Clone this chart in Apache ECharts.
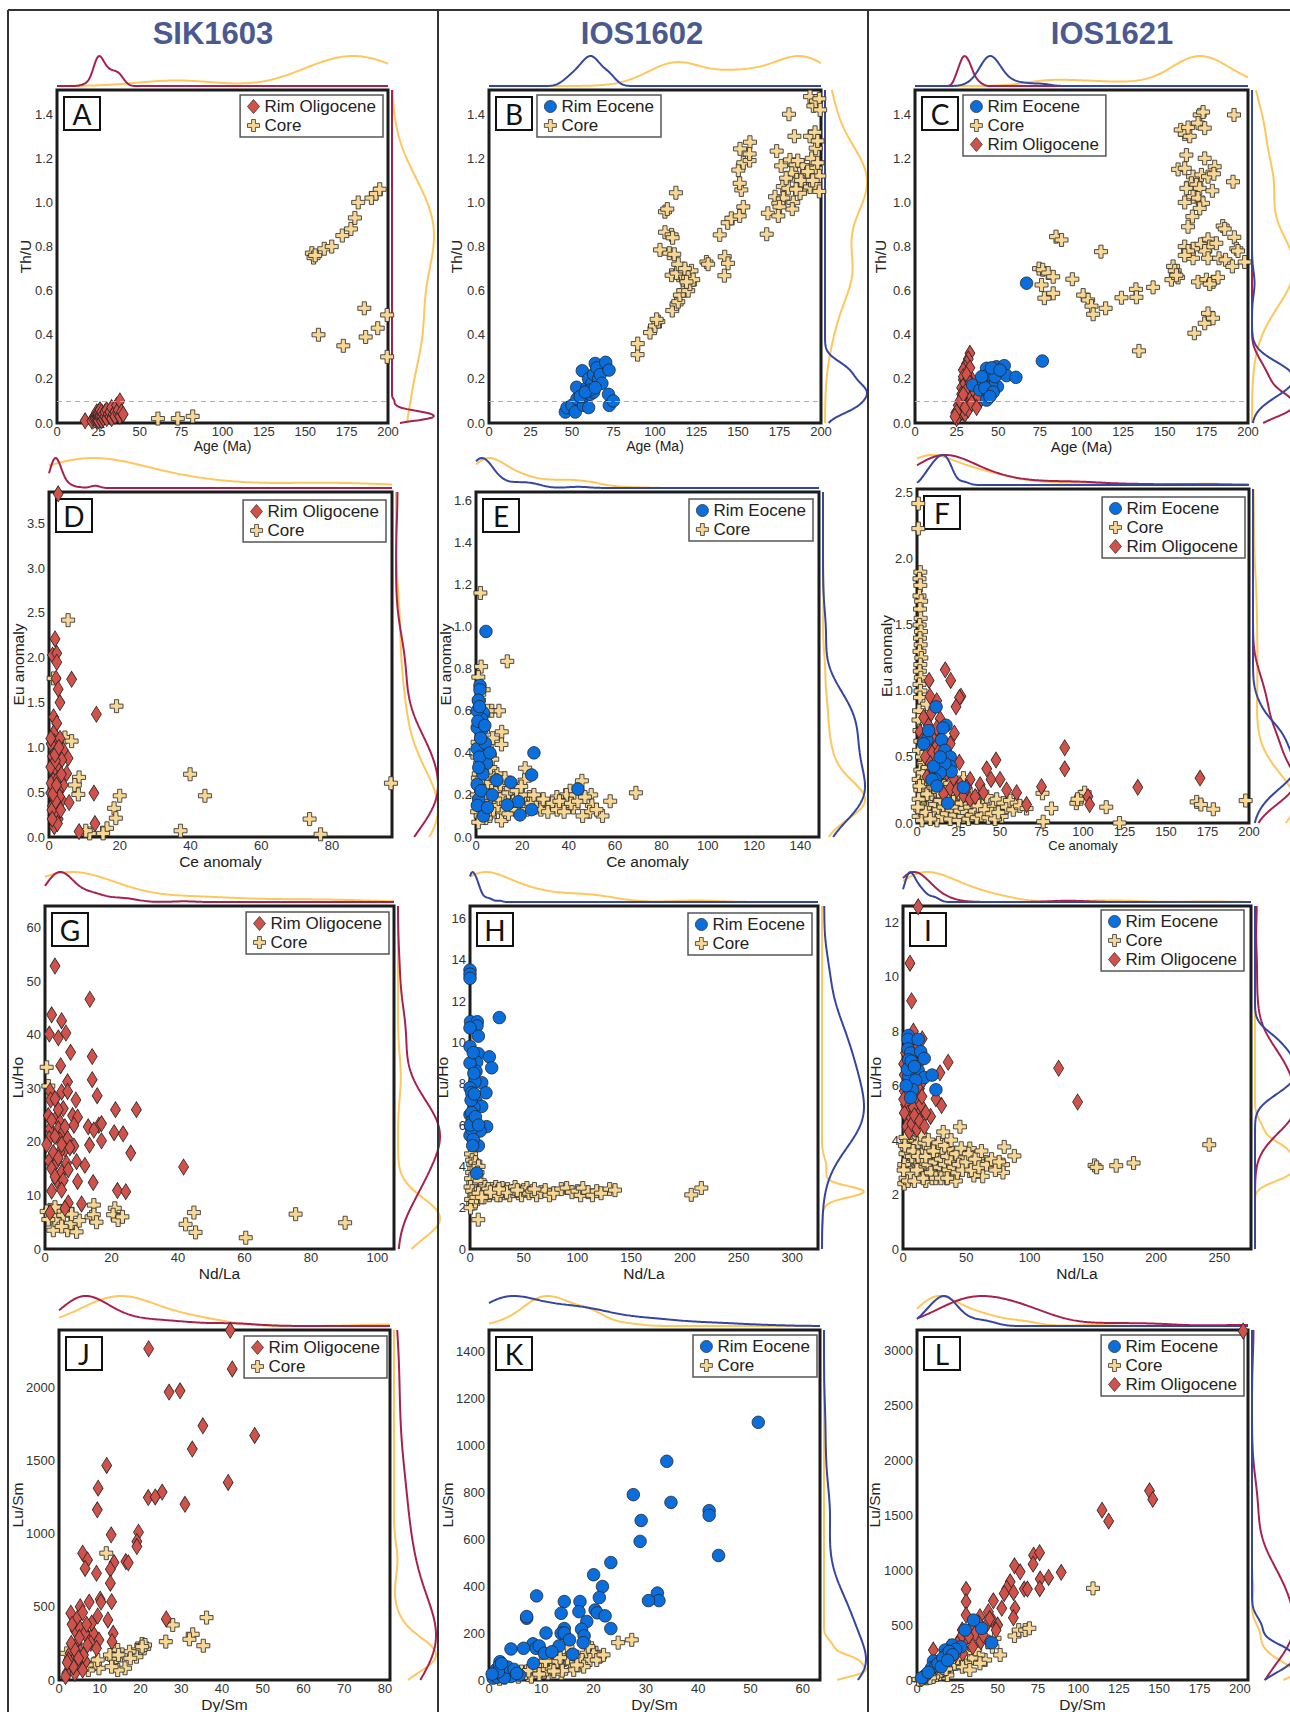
<!DOCTYPE html>
<html>
<head>
<meta charset="utf-8">
<title>Zircon rim and core geochemistry</title>
<script src="https://cdn.jsdelivr.net/npm/echarts/dist/echarts.min.js"></script>
<style>
html,body{margin:0;padding:0;background:#fff}
#chart{width:1290px;height:1712px}
</style>
</head>
<body>
<div id="chart"></div>
<script>
// ---------- sample columns ----------
const SAMPLES = ['SIK1603', 'IOS1602', 'IOS1621'];
const PANEL_LETTERS = ['A','B','C','D','E','F','G','H','I','J','K','L'];
const GROUP_NAMES = ['Rim Oligocene', 'Rim Eocene', 'Core'];

// ---------- Th/U vs Age (Ma) ----------
const A_rimOli = [[17,0.01],[21,0.01],[22,0.02],[23,0.03],[23,0.02],[24,0.01],[24,0.03],[24,0.04],[24,0.02],[24,0.05],[25,0.02],[25,0.03],[25,0.05],[25,0.01],[25,0.04],[26,0.02],[26,0.04],[26,0.06],[26,0.03],[27,0.01],[27,0.03],[27,0.05],[28,0.02],[28,0.04],[29,0.03],[29,0.05],[30,0.02],[30,0.06],[31,0.04],[32,0.03],[32,0.05],[33,0.07],[33,0.02],[34,0.04],[35,0.05],[35,0.03],[36,0.08],[37,0.04],[37,0.06],[38,0.1],[38,0.03],[39,0.05],[40,0.04]];
const A_core = [[61,0.02],[73,0.02],[82,0.03],[154,0.77],[155,0.75],[156,0.76],[161.5,0.79],[166,0.8],[172.4,0.85],[177.6,0.88],[180,0.93],[182,1.0],[190,1.02],[192.7,1.04],[195,1.06],[158,0.4],[173,0.35],[185.7,0.52],[186.5,0.39],[193.8,0.43],[199.5,0.49],[199.5,0.3]];

const B_rimEoc = [[46,0.05],[47,0.07],[50,0.08],[52,0.05],[53,0.11],[52.8,0.162],[56.2,0.237],[57,0.08],[58,0.12],[59,0.16],[60,0.07],[60,0.2],[61,0.13],[62,0.18],[63,0.14],[63,0.22],[64,0.27],[65,0.25],[66,0.2],[67,0.22],[68,0.18],[70.3,0.275],[72.5,0.08],[72,0.13],[72.3,0.24],[74.9,0.1],[61,0.15],[55,0.12],[58,0.14],[64,0.16]];
const B_core = [[89.5,0.31],[89.6,0.36],[97,0.41],[100,0.44],[102,0.46],[101,0.47],[110.4,0.51],[113,0.54],[114,0.55],[115,0.58],[117,0.6],[120,0.6],[121,0.63],[117,0.65],[116,0.67],[110,0.67],[113,0.68],[118,0.69],[122,0.69],[114,0.72],[118,0.7],[120,0.66],[123,0.65],[119,0.64],[103,0.785],[108.6,0.77],[111.6,0.765],[106,0.865],[110,0.853],[110.6,0.84],[106,0.958],[107.4,0.97],[112.6,1.044],[131,0.73],[132,0.72],[142,0.754],[144,0.724],[141.8,0.668],[139,0.853],[143.8,0.908],[146,0.928],[151,0.939],[153.2,0.98],[152,1.057],[151,1.087],[150.2,1.147],[153.2,1.18],[157,1.19],[151.2,1.243],[157.2,1.273],[157,1.22],[173.3,1.233],[176,1.166],[181.3,1.193],[184.7,1.17],[189,1.167],[194.4,1.2],[196.8,1.155],[191.4,1.132],[182.4,1.132],[185.4,1.102],[190,1.064],[193.4,1.07],[196.4,1.08],[177,1.072],[180.3,1.064],[187.4,1.042],[172.3,1.026],[177.3,1.02],[174.3,0.996],[183.3,1.0],[182.7,0.97],[175,0.98],[168,0.951],[174.3,0.939],[167.3,0.856],[196.8,1.246],[199,1.12],[198,1.18],[188,1.1],[186,1.19],[192,1.14],[195,1.1],[199,1.05],[185,1.06],[179,1.11],[180.7,1.4],[184,1.3],[193.4,1.3],[196.4,1.318],[198,1.279],[193.4,1.48],[195.4,1.438],[197,1.46],[199,1.47],[199.5,1.42]];

const C_rimEoc = [[67,0.634],[76.5,0.281],[34.6,0.172],[39,0.15],[43,0.248],[49,0.255],[53.6,0.26],[55,0.215],[60.6,0.207],[49.5,0.165],[44,0.135],[43,0.104],[47,0.23],[45,0.2],[46,0.17],[41,0.19],[44,0.22],[48,0.21],[42,0.16],[46,0.25],[47,0.14],[51,0.24],[40,0.21],[45,0.12]];
const C_core = [[74.5,0.7],[76.7,0.695],[80,0.68],[83,0.663],[76,0.626],[83,0.588],[77.7,0.566],[84.7,0.845],[88,0.83],[111.7,0.777],[94.5,0.652],[101,0.58],[104,0.558],[106,0.53],[107,0.493],[114.5,0.52],[124,0.568],[132.7,0.606],[133,0.57],[143,0.615],[134.5,0.327],[159.6,1.329],[162,1.31],[165,1.3],[164,1.34],[171,1.397],[173,1.41],[170,1.36],[174,1.337],[191.6,1.397],[163,1.215],[174,1.2],[158,1.15],[162,1.155],[167,1.117],[172,1.125],[176,1.117],[180,1.162],[179.5,1.13],[166,1.087],[169,1.08],[171,1.064],[163,1.064],[167,1.026],[170,1.02],[162,1.0],[173,0.996],[171,0.973],[166.6,0.936],[164,0.89],[178.6,1.053],[191,1.094],[184.8,0.893],[186,0.88],[191.8,0.842],[176,0.833],[171.5,0.81],[177,0.8],[181,0.815],[174,0.78],[176,0.747],[167,0.747],[167,0.79],[162,0.8],[164,0.78],[162,0.76],[182.6,0.747],[186.5,0.74],[190.6,0.71],[193,0.79],[194,0.78],[198,0.73],[155,0.71],[156,0.69],[154,0.65],[158,0.66],[157,0.67],[170,0.64],[175,0.65],[179,0.64],[182,0.66],[177,0.63],[167.8,0.407],[174,0.452],[176,0.497],[179,0.475]];
const C_rimOli = [[33,0.316],[32,0.29],[31,0.27],[30,0.25],[29,0.24],[29,0.195],[28,0.16],[29,0.21],[34.5,0.195],[33,0.15],[31,0.12],[36,0.09],[40,0.11],[28,0.09],[26,0.06],[24.5,0.045],[25,0.02],[29,0.045],[31,0.07],[33,0.08],[35,0.11],[27,0.07],[28,0.13],[30,0.1],[30,0.18],[32,0.13],[27,0.04],[26,0.03],[28,0.05],[29,0.08],[31,0.15],[32,0.2],[34,0.12],[36,0.14],[38,0.12],[30,0.04],[32,0.06],[26,0.08],[25,0.05],[28,0.11],[33,0.25],[31,0.22],[24,0.03],[27,0.1],[30,0.07],[34,0.09],[37,0.07],[29,0.13],[33,0.18]];

// ---------- Eu anomaly vs Ce anomaly ----------
const D_rimOli = [[2.6,3.83],[1.7,2.21],[1.0,2.03],[2.2,2.05],[2.2,1.95],[2.0,1.77],[2.6,1.65],[3.1,1.5],[6.4,1.76],[13.4,1.37],[1.3,1.34],[2.2,1.27],[1.3,1.16],[1.5,1.06],[3.1,1.1],[1.3,0.97],[2.6,0.98],[4,0.97],[5.4,0.88],[3.6,0.86],[2.2,0.78],[1.3,0.71],[5,0.71],[4,0.58],[1.3,0.56],[2.7,0.52],[0.5,0.49],[3.6,0.41],[1.5,0.43],[5.7,0.385],[12.7,0.49],[2.2,0.32],[1.3,0.19],[2.6,0.2],[1.5,0.115],[13,0.15],[8.5,0.06],[0.5,0.78],[0.6,1.04],[1.2,0.63],[0.6,0.6],[1.0,0.9],[1.8,0.85],[2.5,0.65],[3.0,0.45],[1.0,0.35],[2.0,0.25],[0.8,0.3],[3.3,0.3],[1.7,0.92],[2.8,1.0],[0.5,1.1],[1.9,0.4],[2.4,0.15],[0.9,0.2],[3.5,0.7],[1.1,0.48],[2.1,0.58]];
const D_core = [[5.4,2.42],[1.3,1.77],[19.1,1.46],[4.5,1.11],[6.4,1.07],[8.5,0.665],[7.3,0.58],[8.3,0.475],[20,0.46],[18.4,0.32],[18.9,0.21],[16.4,0.097],[15.3,0.04],[11.5,0.04],[10.4,0.07],[39.9,0.7],[44.1,0.46],[37.2,0.07],[73.7,0.2],[76.8,0.03],[96.7,0.6]];

const E_rimEoc = [[4.3,0.977],[1.7,0.72],[1.7,0.7],[3.2,0.59],[2.5,0.56],[2.5,0.51],[0.5,0.52],[0.5,0.6],[0.5,0.42],[4,0.446],[4.6,0.35],[9,0.27],[25,0.4],[24,0.295],[15,0.26],[18.3,0.168],[13.5,0.152],[19,0.105],[44,0.228],[3.2,0.1],[24,0.13],[0.5,0.25],[1.2,0.18],[1.0,0.65],[0.8,0.55],[2.0,0.47],[1.5,0.38],[3.0,0.3],[6,0.4],[1.2,0.33],[0.6,0.15],[2.2,0.22],[7,0.2],[5,0.14],[1.5,0.62],[3.8,0.53]];
const E_core = [[1.9,1.16],[13.5,0.835],[2.2,0.81],[1.0,0.76],[1.3,0.65],[6.8,0.6],[9.9,0.6],[11.1,0.5],[11,0.44],[2.5,0.46],[4.6,0.43],[6,0.39],[7,0.37],[2.5,0.33],[21.2,0.327],[21,0.27],[16.9,0.23],[45.7,0.267],[40.6,0.22],[39,0.2],[34.9,0.19],[49.7,0.2],[50,0.15],[57.9,0.17],[69,0.21],[54.6,0.1],[49,0.12],[42,0.14],[37.7,0.15],[32,0.155],[27.7,0.17],[23,0.19],[21,0.16],[15.4,0.14],[11.1,0.12],[11,0.078],[6,0.1],[14,0.11],[5.7,0.19],[7,0.24],[9,0.3],[0.5,0.12],[1,0.15],[1.5,0.18],[2,0.2],[2.5,0.22],[3,0.25],[0.8,0.28],[1.2,0.3],[1.8,0.35],[0.6,0.38],[2.2,0.4],[3.5,0.17],[4,0.13],[4.5,0.21],[5,0.26],[5.5,0.3],[6.5,0.16],[7.5,0.13],[8,0.19],[8.5,0.22],[9.5,0.15],[10,0.18],[12,0.2],[13,0.16],[14,0.21],[16,0.17],[17,0.13],[18,0.19],[19,0.15],[20,0.2],[22,0.13],[24,0.16],[25,0.2],[26,0.14],[28,0.13],[29,0.18],[31,0.12],[33,0.16],[35,0.13],[36,0.17],[38,0.12],[41,0.16],[43,0.2],[44,0.17],[47,0.19],[52,0.13],[46,0.1],[3,0.5],[1.5,0.55],[0.7,0.45],[3.8,0.36],[2.8,0.28],[1.4,0.24],[0.4,0.2],[4.2,0.09],[2,0.1],[1,0.07],[6.2,0.33],[8.8,0.27],[10.5,0.25],[12.5,0.28],[15,0.23],[17.5,0.22],[19.5,0.24],[5,0.6],[2,0.6],[7.2,0.47],[3.3,0.7]];

const F_rimEoc = [[11.5,0.88],[17.5,0.74],[15.7,0.72],[14.8,0.63],[16.8,0.55],[20,0.5],[20,0.43],[20.6,0.39],[16.8,0.45],[14,0.38],[11,0.33],[9,0.33],[12,0.28],[18.5,0.15],[28,0.27],[6,0.63],[4,0.6],[7,0.7],[10,0.43],[14,0.5]];
const F_core = [[0.8,2.42],[0.8,2.23],[2,1.9],[1.5,1.85],[2,1.8],[1.5,1.72],[2.5,1.68],[1.8,1.62],[2.2,1.55],[1.6,1.5],[2.4,1.45],[1.8,1.4],[2.2,1.35],[1.5,1.3],[2.6,1.25],[2.0,1.2],[1.7,1.15],[2.3,1.1],[1.5,1.05],[2.1,1.0],[1.8,0.95],[6,0.9],[1.2,0.85],[0.9,0.78],[1.5,0.7],[2,0.62],[1.2,0.55],[3,0.5],[4,0.45],[2,0.4],[5,0.38],[7,0.35],[1,0.33],[3,0.3],[9,0.38],[11,0.36],[12,0.3],[14,0.32],[16,0.28],[18,0.25],[20,0.3],[22,0.26],[24,0.22],[26,0.2],[28,0.34],[30,0.18],[32,0.22],[34,0.15],[36,0.2],[38,0.1],[40,0.14],[42,0.2],[44,0.08],[46,0.12],[48,0.18],[50,0.1],[52,0.15],[54,0.12],[56,0.17],[58,0.1],[60,0.15],[62,0.13],[66,0.11],[51,0.05],[76,0.01],[75.6,0.225],[81,0.11],[96,0.15],[99,0.2],[101,0.23],[96.7,0.18],[114,0.12],[122,0.0],[168.5,0.16],[171,0.14],[178.5,0.104],[198,0.17],[1,0.05],[2,0.1],[3,0.15],[4,0.2],[5,0.25],[6,0.05],[7,0.12],[8,0.18],[9,0.22],[10,0.08],[11,0.14],[12,0.02],[13,0.1],[14,0.17],[15,0.05],[16,0.12],[17,0.2],[18,0.07],[19,0.14],[20,0.03],[21,0.1],[22,0.16],[23,0.06],[24,0.12],[25,0.02],[26,0.09],[27,0.15],[28,0.05],[29,0.11],[30,0.08],[31,0.03],[32,0.12],[33,0.06],[35,0.09],[36,0.04],[37,0.13],[39,0.06],[41,0.1],[43,0.04],[45,0.07],[47,0.03],[49,0.08],[3,0.02],[5,0.08],[8,0.03],[2,0.25],[4,0.3],[6,0.22],[10,0.27],[13,0.24],[1,0.18],[0.5,0.12],[1.5,0.28],[3.5,0.38],[6.5,0.42],[8.5,0.3]];
const F_rimOli = [[17,1.16],[20.3,1.08],[7.3,1.08],[26.5,0.96],[25.6,0.95],[23.5,0.88],[11.9,0.926],[7.8,0.96],[8.5,0.83],[13.9,0.79],[6.8,0.74],[1.8,0.69],[22.5,0.68],[11.9,0.72],[6.8,0.6],[11.9,0.59],[13.9,0.63],[9,0.53],[13,0.54],[25.5,0.46],[42,0.41],[47.6,0.477],[44.6,0.33],[50,0.33],[54,0.25],[60,0.23],[66,0.14],[75,0.275],[89,0.57],[89,0.41],[103,0.2],[104,0.14],[133,0.27],[170.5,0.34],[32,0.33],[38,0.29],[40,0.23],[26,0.29],[20,0.26],[28,0.21],[32,0.18],[4,0.8],[3,0.62],[5,0.5],[8,0.45],[10,0.4],[15,0.45],[18,0.38],[22,0.34],[24,0.25],[30,0.27],[35,0.2],[16,0.22],[6,0.35],[9,0.65],[14,0.36],[20,0.6]];

// ---------- Lu/Ho vs Nd/La ----------
const G_rimOli = [[3.0,52.8],[13.5,46.6],[2.0,43.7],[5.0,42.6],[1.3,40.1],[4.0,39.4],[6.3,40.3],[7.7,36.7],[14.2,35.9],[4.7,34.2],[14.2,31.6],[6.8,31.2],[5,29.3],[6.8,29.4],[1.5,29.5],[15.7,28.6],[1.7,27.8],[9.3,27.8],[5.5,26.2],[21.2,26],[27.5,26],[1.0,24.9],[3.5,24.6],[8.3,24.9],[9.8,24.6],[4.5,23.7],[8.7,23.1],[13,22.8],[16.2,23.1],[17,23.4],[1.5,22.4],[4,22.4],[5.5,21.9],[14.7,22.2],[20.8,21.7],[23.5,21.5],[1.3,20.6],[4.5,20.3],[6.8,20.6],[17,20.2],[8.7,19.2],[13.4,19.4],[6,18.6],[4.5,18.1],[25.8,17.9],[1.3,16.5],[3.5,16.3],[6.5,16],[9.5,16.3],[12,15.6],[2,15],[5,14.3],[7,14.8],[41.7,15.3],[3.5,12.8],[5.5,12.8],[9.8,12.6],[14.5,12.4],[2,10.8],[5,11],[21.8,10.9],[24.3,10.7],[11,8.4],[7,8.6],[6,7.6],[1.5,6.8],[3,21],[5,19.5],[2.5,18],[4,26],[2,24],[3,13.5],[6,22.8],[7.5,18.9],[4,17],[0.5,19.5],[3,28]];
const G_core = [[0.5,33.9],[1.0,30.4],[1.5,7.3],[2.5,3.5],[3,5.4],[4.5,7.1],[5.5,6.3],[6.8,7.4],[6.8,3.5],[7.8,4.8],[9.5,3.2],[10.3,5.3],[14.7,8.2],[14,6],[14.7,6.4],[15.5,5.0],[21,7.6],[20.5,6.4],[22,5.4],[23.3,6.0],[42.3,4.6],[44.8,6.8],[45.3,3.1],[60.4,2.1],[75.4,6.5],[90.3,4.9],[0.5,7],[3,7.8],[5,4.2],[8,6.5],[1,5.5]];

const H_rimEoc = [[0,16.7],[0,13.5],[0,13.3],[0,13.1],[27.3,11.2],[0.5,11],[6.8,11],[6.5,10.8],[0,10.7],[7.8,10.3],[7.8,9.45],[18,9.3],[6.2,9.04],[20.2,8.77],[5.6,8.6],[0,9],[10.9,8.05],[4.6,8.1],[0,7.8],[1.5,7.56],[14.9,7.56],[5.6,7.15],[10.9,6.9],[3.6,6.85],[0,6.5],[4.6,6.03],[15.5,5.92],[9.3,5.71],[0,5.5],[7.8,5.0],[6.2,3.67],[1.5,5.8],[1.5,6.6],[3.6,8.5],[0,9.8],[2,6.2],[3,5.3],[1,7.2],[4,7.5],[2.5,5.0],[0.5,6.0],[5,6.4],[8,6.0],[3,9.5]];
const H_core = [[1,4.6],[2,4.3],[3,4.1],[5,4.2],[4,3.9],[2,3.7],[6,3.5],[1,3.4],[3,3.2],[0.5,3.0],[2,2.8],[4,2.6],[1,2.4],[3,2.2],[0.5,2.0],[5,2.3],[6,2.5],[7.7,1.42],[8,4.0],[7,3.7],[9,3.3],[10,2.9],[12,2.7],[14,3.0],[16,2.8],[18,2.6],[20,2.9],[22,2.7],[24,3.0],[26,2.8],[28,2.6],[30,2.95],[32,2.7],[35,2.9],[37,2.6],[40,2.8],[42,3.0],[45,2.7],[48,2.6],[50,2.85],[53,2.95],[55,2.7],[58,2.8],[62,2.6],[66,2.75],[70,2.85],[74,2.6],[78,2.7],[85,2.9],[90,2.95],[95,2.75],[100,2.8],[103,2.6],[105,2.95],[110,2.75],[114,2.6],[118,2.8],[122,2.7],[130,2.9],[135,2.85],[206,2.62],[215.4,2.95],[13,2.5],[17,2.9],[25,2.6],[34,2.75],[44,2.85],[60,2.9],[8,2.7],[11,2.5],[19,2.75],[27,2.9]];

const I_rimEoc = [[4.2,7.84],[4,7.7],[12,7.7],[4,7.35],[6,7.2],[14,7.25],[16.8,7.0],[4.5,6.95],[12,6.56],[16.8,6.3],[23,6.39],[4.5,6.34],[10,6.2],[26,5.85],[7.6,5.85],[6,5.56],[3.5,6.6],[2.5,6.0],[6.5,6.9],[9,6.7]];
const I_core = [[242,3.83],[151.4,3.07],[153,3.0],[168.5,3.06],[182.2,3.16],[45,4.49],[31.8,4.3],[52.8,3.69],[80,3.75],[88,3.42],[79,3.1],[79,2.81],[65.7,3.2],[63,2.67],[56,2.7],[48,3.4],[41.8,2.5],[34.5,2.6],[1,2.4],[2,2.6],[3,2.9],[4,3.2],[5,3.5],[6,3.8],[7,4.1],[8,4.4],[9,3.0],[10,3.3],[11,3.6],[12,3.9],[13,2.7],[14,3.0],[15,3.3],[16,3.6],[17,3.9],[18,2.5],[19,2.8],[20,3.1],[21,3.4],[22,3.7],[23,2.6],[24,2.9],[25,3.2],[26,3.5],[27,3.8],[28,2.7],[29,3.0],[30,3.3],[31,3.6],[32,2.8],[33,3.1],[35,3.4],[36,2.9],[37,3.7],[38,3.2],[40,3.0],[42,3.5],[43,2.8],[44,3.1],[46,3.7],[47,2.9],[50,3.2],[52,3.5],[54,2.9],[57,3.3],[60,3.0],[62,3.6],[66,3.1],[70,3.3],[73,2.9],[76,3.2],[2,3.5],[3,4.0],[1,3.1],[4,2.5],[6,2.8],[5,4.4],[2,4.1],[3,3.7],[7,3.4],[0.5,2.9],[1.5,3.8],[8,3.6],[9,2.5],[11,2.9],[12,3.4],[14,4.2],[16,2.6],[18,3.4],[20,4.0],[22,2.8],[24,3.6],[26,2.6],[28,3.9],[30,2.6],[33,3.8],[35,2.6],[38,4.0],[6,4.7],[10,4.5],[13,4.8]];
const I_rimOli = [[12,12.57],[5.5,10.5],[6.8,9.12],[8.2,8.0],[15.2,7.72],[35.7,6.86],[29.2,6.47],[26,5.52],[30.5,5.27],[21.8,4.87],[123,6.64],[138,5.4],[2,7.2],[4,6.8],[6,6.5],[8,7.0],[10,6.3],[12,6.6],[3,6.0],[5,5.7],[7,6.1],[9,5.8],[11,5.5],[13,5.9],[2,5.3],[4,5.0],[6,4.8],[8,5.2],[10,4.6],[12,4.9],[14,5.3],[3,4.5],[5,4.3],[7,4.6],[9,4.9],[11,4.4],[13,4.7],[1,6.4],[1,5.8],[1,5.0],[15,5.6],[16,6.2],[14,6.9],[6,7.4],[10,7.3],[0.5,6.8],[0.5,5.5],[18,5.0],[17,4.5]];

// ---------- Lu/Sm vs Dy/Sm ----------
const J_rimOli = [[42,2388],[22,2262],[42.5,2124],[27,1966],[29.7,1975],[35.3,1736],[48,1670],[32.7,1577],[11.7,1465],[41.5,1349],[9.6,1310],[25.3,1283],[21.9,1246],[23.6,1250],[30.9,1200],[9.4,1162],[12.8,991],[19.5,1009],[19.1,945],[19.1,911],[5.8,866],[7,820],[6.4,762],[9.2,729],[13.5,802],[12.6,757],[16.4,809],[17,800],[12.6,661],[12.9,535],[10.1,552],[10.3,532],[2.9,456],[5.2,501],[7.4,532],[4.5,422],[5.8,461],[9.5,437],[12,410],[26.3,417],[13.3,319],[13,262],[3.9,342],[5.2,353],[7,296],[8.4,319],[9.8,273],[7.8,251],[9.2,216],[4.5,251],[2.7,182],[3.9,148],[5.2,194],[6.5,125],[2.7,91],[4.5,91],[1.9,46],[3.9,46],[5.8,68],[7,239],[8,388],[6.3,319],[3.5,91],[2.3,137],[1.6,23],[3,250],[4,200],[6,170],[2,120],[5,290],[3.2,380],[4.8,150],[6.8,380]];
const J_core = [[11.6,866],[81.4,761],[36.2,426],[27.9,376],[32.8,312],[32,278],[26.2,262],[35.4,234],[20.4,246],[20.9,216],[19.1,205],[19,159],[17.3,193],[14.4,205],[14,137],[13,148],[9.8,80],[8.8,114],[7.2,68],[16.2,80],[14.4,68],[1.9,182],[6.8,103],[12.5,171],[9.5,137],[12.9,91],[14.6,171],[17.5,148],[21.1,239],[20.4,228]];

const K_rimEoc = [[51.5,1097],[34,931],[27.6,789],[34.8,756],[42.1,721],[42.1,701],[29.1,679],[28.9,590],[43.9,530],[23.3,500],[20,448],[21.7,398],[21.1,351],[32.2,370],[32.5,338],[30.5,338],[9.1,358],[14.4,334],[17.4,334],[13.8,284],[17.2,291],[20.3,298],[20.7,286],[22.2,273],[18.7,249],[7.2,263],[7.2,270],[17.7,216],[23.3,219],[14.4,219],[13.8,199],[14.4,200],[10.9,200],[15.4,171],[18.2,188],[18,159],[13.4,145],[8.4,154],[9,135],[9.6,145],[4.2,132],[6.6,135],[8.5,71],[10.6,114],[2.1,78],[2.4,43],[1.5,29],[3.3,36],[4.6,31],[1,15],[2,50],[2.7,57],[5.8,21],[12,120],[16,110],[0.8,8],[1.2,20],[1.6,12],[2.2,25],[2.6,18],[3,40],[3.4,22],[3.8,30],[4.2,15],[1.4,45],[2,62],[2.9,10],[3.6,55],[4.8,45],[5.3,28],[1.8,35],[0.6,25],[2.4,70]];
const K_core = [[24.7,159],[27.3,171],[19.6,135],[21.2,99],[18.7,114],[16.8,99],[15,142],[14.4,85],[12,85],[11.3,99],[10,71],[8.1,43],[6.2,36],[4.3,21],[7.5,21],[9.4,50],[13.2,57],[15.6,71],[17.8,85],[20,114],[19.3,85],[18.1,57],[16.2,43],[13.8,29],[11.3,29],[8.1,14],[5.6,14],[16.8,64],[12.6,71],[10.6,36],[15,92],[19,142],[20.6,85],[21.9,107],[3,10],[2,5],[7,30],[8,55],[9,35],[10,60],[11,45],[12,50],[13,80],[14,40],[7.6,40],[8.8,62],[9.6,25],[10.8,80],[12.4,38],[13.6,95]];

const L_rimEoc = [[29.8,455],[40.1,471],[21.9,319],[27.1,303],[17.4,273],[19.2,249],[14.3,173],[10.2,173],[9.1,112],[11.7,130],[46.3,340],[35,546],[18,230],[5,40],[3,20],[7,70],[13,150],[24,280],[16,200],[20,260],[22,230],[15,120],[19,180]];
const L_core = [[109,835],[60.4,401],[63,455],[67,455],[69.6,471],[46.7,303],[51.5,228],[42.2,182],[38,228],[34,200],[29.8,152],[25.6,152],[21.3,107],[16.6,61],[10,36],[6,15],[2,0],[28.1,121],[32.7,91],[39,152],[14.3,91],[18.8,45],[4,20],[8,40],[12,60],[19,120],[23,150],[30,250],[36,280],[44,350],[48,380],[25,200],[20,170],[1,5],[3,12],[5,25],[7,30],[9,45],[11,50],[13,70],[15,80],[17,95],[14,55],[12,45],[10,28],[16,110],[18,100],[6,35],[8,20]];
const L_rimOli = [[202,3181],[144,1724],[146,1646],[114.6,1548],[118.7,1448],[72.2,1138],[75.9,1160],[71.9,1056],[60.4,1041],[63.9,986],[89.3,981],[81.5,935],[76.3,920],[57.7,895],[30.4,826],[55.6,835],[59.8,798],[66.4,829],[68.4,829],[76,832],[54,789],[30.4,713],[47.3,722],[52.5,653],[60.7,653],[30.4,592],[44.2,622],[39,577],[59.7,567],[47.3,531],[50,501],[49,455],[38,522],[34,485],[36,425],[28,455],[30.4,379],[39.5,349],[34.5,303],[26.8,379],[10.1,273],[22.3,273],[28.3,243],[18.6,213],[41,410],[20,300],[25,330],[32,400],[43,500],[45,560],[15,150],[12,120],[8,80],[24,230]];

// ---------- styling ----------
const FONT = '"Liberation Sans", Arial, sans-serif';
const PLUS = 'path://M3.4,0H6.6V3.4H10V6.6H6.6V10H3.4V6.6H0V3.4H3.4Z';
const GROUPS = {
  rimOli: { name: GROUP_NAMES[0], symbol: 'diamond', size: [10, 16], fill: '#d1524a', curve: '#a8214e' },
  rimEoc: { name: GROUP_NAMES[1], symbol: 'circle', size: 12.5, fill: '#0a6fdd', curve: '#3446a2' },
  core:   { name: GROUP_NAMES[2], symbol: PLUS, size: 13, fill: '#f8d794', curve: '#ffc65c' }
};
const DRAW_ORDER = ['core', 'rimOli', 'rimEoc'];

// panel layout: plot box [left, top, width, height] in px
const PANELS = [
  { box:[57,90,331,333],  x:{name:'Age (Ma)', max:200, step:25, size:14},   y:{name:'Th/U', max:1.51, step:0.2, dec:1, gap:24},
    sets:{core:A_core, rimOli:A_rimOli}, legend:['rimOli','core'], leg:{right:907, top:95}, ref:0.1 },
  { box:[489,90,332,333], x:{name:'Age (Ma)', max:200, step:25, size:14},   y:{name:'Th/U', max:1.51, step:0.2, dec:1, gap:25},
    sets:{core:B_core, rimEoc:B_rimEoc}, legend:['rimEoc','core'], leg:{left:537, top:95}, ref:0.1 },
  { box:[915,90,333,333], x:{name:'Age (Ma)', max:200, step:25, size:15},   y:{name:'Th/U', max:1.51, step:0.2, dec:1, gap:27},
    sets:{core:C_core, rimOli:C_rimOli, rimEoc:C_rimEoc}, legend:['rimEoc','core','rimOli'], leg:{left:963, top:95}, ref:0.1 },
  { box:[49,492,343,345], x:{name:'Ce anomaly', max:97, step:20},  y:{name:'Eu anomaly', max:3.85, step:0.5, dec:1, gap:23},
    sets:{core:D_core, rimOli:D_rimOli}, legend:['rimOli','core'], leg:{right:904, top:500} },
  { box:[476,492,343,345], x:{name:'Ce anomaly', max:148, step:20}, y:{name:'Eu anomaly', max:1.64, step:0.2, dec:1, gap:23},
    sets:{rimEoc:E_rimEoc, core:E_core}, legend:['rimEoc','core'], leg:{right:477, top:499} },
  { box:[917,489,332,334], x:{name:'Ce anomaly', max:200, step:25, size:13}, y:{name:'Eu anomaly', max:2.53, step:0.5, dec:1, gap:23},
    sets:{core:F_core, rimOli:F_rimOli, rimEoc:F_rimEoc}, legend:['rimEoc','core','rimOli'], leg:{right:45, top:497} },
  { box:[45,906,349,343], x:{name:'Nd/La', max:105, step:20},      y:{name:'Lu/Ho', max:64, step:10, dec:0, gap:20},
    sets:{core:G_core, rimOli:G_rimOli}, legend:['rimOli','core'], leg:{right:901, top:912} },
  { box:[470,906,348,343], x:{name:'Nd/La', max:324, step:50},     y:{name:'Lu/Ho', max:16.6, step:2, dec:0, gap:20},
    sets:{core:H_core, rimEoc:H_rimEoc}, legend:['rimEoc','core'], leg:{right:478, top:913} },
  { box:[903,906,348,343], x:{name:'Nd/La', max:275, step:50},     y:{name:'Lu/Ho', max:12.6, step:2, dec:0, gap:20},
    sets:{core:I_core, rimOli:I_rimOli, rimEoc:I_rimEoc}, legend:['rimEoc','core','rimOli'], leg:{right:46, top:910} },
  { box:[59,1330,331,350], x:{name:'Dy/Sm', max:81.2, step:10},    y:{name:'Lu/Sm', max:2390, step:500, dec:0, gap:34},
    sets:{core:J_core, rimOli:J_rimOli}, legend:['rimOli','core'], leg:{right:903, top:1336} },
  { box:[489,1330,331,350], x:{name:'Dy/Sm', max:63.3, step:10},   y:{name:'Lu/Sm', max:1490, step:200, dec:0, gap:34},
    sets:{core:K_core, rimEoc:K_rimEoc}, legend:['rimEoc','core'], leg:{right:473, top:1335} },
  { box:[917,1330,331,350], x:{name:'Dy/Sm', max:205, step:25},    y:{name:'Lu/Sm', max:3190, step:500, dec:0, gap:35},
    sets:{core:L_core, rimOli:L_rimOli, rimEoc:L_rimEoc}, legend:['rimEoc','core','rimOli'], leg:{right:46, top:1335} }
];

// Gaussian kernel density (Scott's bandwidth), scaled to a peak of 1
function density(values, lo, hi, steps) {
  const n = values.length;
  const mean = values.reduce((a, b) => a + b, 0) / n;
  const sd = Math.sqrt(values.reduce((a, b) => a + (b - mean) * (b - mean), 0) / (n - 1)) || (hi - lo) / 50;
  const bw = sd * Math.pow(n, -0.2);
  const pts = [];
  for (let i = 0; i <= steps; i++) {
    const t = lo + (hi - lo) * i / steps;
    let s = 0;
    for (const v of values) { const z = (t - v) / bw; s += Math.exp(-0.5 * z * z); }
    pts.push([t, s]);
  }
  const peak = Math.max.apply(null, pts.map(p => p[1]));
  return pts.map(p => [p[0], p[1] / peak]);
}

const grids = [], xAxes = [], yAxes = [], series = [], legends = [], graphics = [];
const axisText = { fontSize: 13, color: '#333', fontFamily: FONT };
const nameText = { fontSize: 15.5, color: '#222', fontFamily: FONT };

PANELS.forEach((p, i) => {
  const [L, T, W, H] = p.box;
  const g = i * 3;
  grids.push(
    { left: L, top: T, width: W, height: H, show: true, borderColor: '#1c1c1c', borderWidth: 3, backgroundColor: 'transparent', outerBoundsMode: 'none' },
    { left: L, top: T - 34, width: W, height: 30, outerBoundsMode: 'none' },
    { left: L + W + 4, top: T, width: 42, height: H, outerBoundsMode: 'none' }
  );
  const fmt = v => (p.y.dec ? v.toFixed(p.y.dec) : String(Math.round(v)));
  xAxes.push(
    { gridIndex: g, type: 'value', min: 0, max: p.x.max, interval: p.x.step,
      name: p.x.name, nameLocation: 'middle', nameGap: 16, nameMoveOverlap: false,
      nameTextStyle: Object.assign({}, nameText, { fontSize: p.x.size || 15.5 }),
      axisLine: { show: false }, axisTick: { show: false }, splitLine: { show: false },
      axisLabel: Object.assign({ margin: 2, showMaxLabel: p.x.max % p.x.step === 0, hideOverlap: false }, axisText) },
    { gridIndex: g + 1, type: 'value', min: 0, max: p.x.max, show: false },
    { gridIndex: g + 2, type: 'value', min: 0, max: 1, show: false }
  );
  yAxes.push(
    { gridIndex: g, type: 'value', min: 0, max: p.y.max, interval: p.y.step,
      name: p.y.name, nameLocation: 'middle', nameGap: p.y.gap, nameMoveOverlap: false, nameTextStyle: nameText,
      axisLine: { show: false }, axisTick: { show: false }, splitLine: { show: false },
      axisLabel: Object.assign({ margin: 4, showMaxLabel: false, formatter: fmt, hideOverlap: false }, axisText) },
    { gridIndex: g + 1, type: 'value', min: 0, max: 1, show: false },
    { gridIndex: g + 2, type: 'value', min: 0, max: p.y.max, show: false }
  );

  DRAW_ORDER.forEach(k => {
    const data = p.sets[k];
    if (!data) return;
    const grp = GROUPS[k];
    const s = {
      type: 'scatter', name: grp.name, xAxisIndex: g, yAxisIndex: g, data: data,
      symbol: grp.symbol, symbolSize: grp.size,
      itemStyle: { color: grp.fill, borderColor: '#262626', borderWidth: 0.8, opacity: 1 },
      z: 4, silent: true
    };
    if (p.ref !== undefined && k === 'core') {
      s.markLine = { silent: true, symbol: 'none', label: { show: false },
        lineStyle: { color: '#8fb6e2', type: [5, 4], width: 1.2 }, data: [{ yAxis: p.ref }] };
    }
    series.push(s);
  });

  // marginal density curves
  DRAW_ORDER.forEach(k => {
    const data = p.sets[k];
    if (!data) return;
    const col = GROUPS[k].curve;
    const top = density(data.map(d => d[0]), 0, p.x.max, 240);
    const side = density(data.map(d => d[1]), 0, p.y.max, 240).map(d => [d[1], d[0]]);
    series.push(
      { type: 'line', xAxisIndex: g + 1, yAxisIndex: g + 1, data: top, showSymbol: false, symbol: 'none',
        lineStyle: { color: col, width: 2 }, silent: true, z: 3, clip: true },
      { type: 'line', xAxisIndex: g + 2, yAxisIndex: g + 2, data: side, showSymbol: false, symbol: 'none',
        lineStyle: { color: col, width: 2 }, silent: true, z: 3, clip: true }
    );
  });

  legends.push(Object.assign({
    orient: 'vertical', selectedMode: false, itemWidth: 12, itemHeight: 14, itemGap: 2,
    padding: [3, 7, 3, 7], borderColor: '#555', borderWidth: 1.5, backgroundColor: '#fff',
    textStyle: { fontSize: 17, color: '#222', fontFamily: FONT },
    data: p.legend.map(k => ({ name: GROUPS[k].name, icon: GROUPS[k].symbol,
      itemStyle: { color: GROUPS[k].fill, borderColor: '#333', borderWidth: 0.8 } }))
  }, p.leg));

  // panel letter box
  graphics.push({
    type: 'group', x: L + 7, y: T + 7, z: 50,
    children: [
      { type: 'rect', shape: { x: 0, y: 0, width: 36, height: 33 }, style: { fill: '#fff', stroke: '#111', lineWidth: 2 } },
      { type: 'text', x: 18, y: 17, style: { text: PANEL_LETTERS[i], font: '28px Lato, "Open Sans", sans-serif', fill: '#111', textAlign: 'center', textVerticalAlign: 'middle' } }
    ]
  });
});

// column headers and frame
const headerX = [213, 642, 1112];
SAMPLES.forEach((s, c) => {
  graphics.push({ type: 'text', x: headerX[c], y: 33, z: 50,
    style: { text: s, font: 'bold 31px "Liberation Sans", Arial, sans-serif', fill: '#4a5990', textAlign: 'center', textVerticalAlign: 'middle' } });
});
[[8, 10, 1290, 10], [8, 10, 8, 1712], [438, 10, 438, 1712], [868, 10, 868, 1712]].forEach(l => {
  graphics.push({ type: 'line', z: 40, shape: { x1: l[0], y1: l[1], x2: l[2], y2: l[3] }, style: { stroke: '#333', lineWidth: 2 } });
});

const chart = echarts.init(document.getElementById('chart'), null, { renderer: 'svg' });
chart.setOption({
  animation: false,
  backgroundColor: '#fff',
  grid: grids, xAxis: xAxes, yAxis: yAxes,
  legend: legends, series: series, graphic: graphics
});
</script>
</body>
</html>
